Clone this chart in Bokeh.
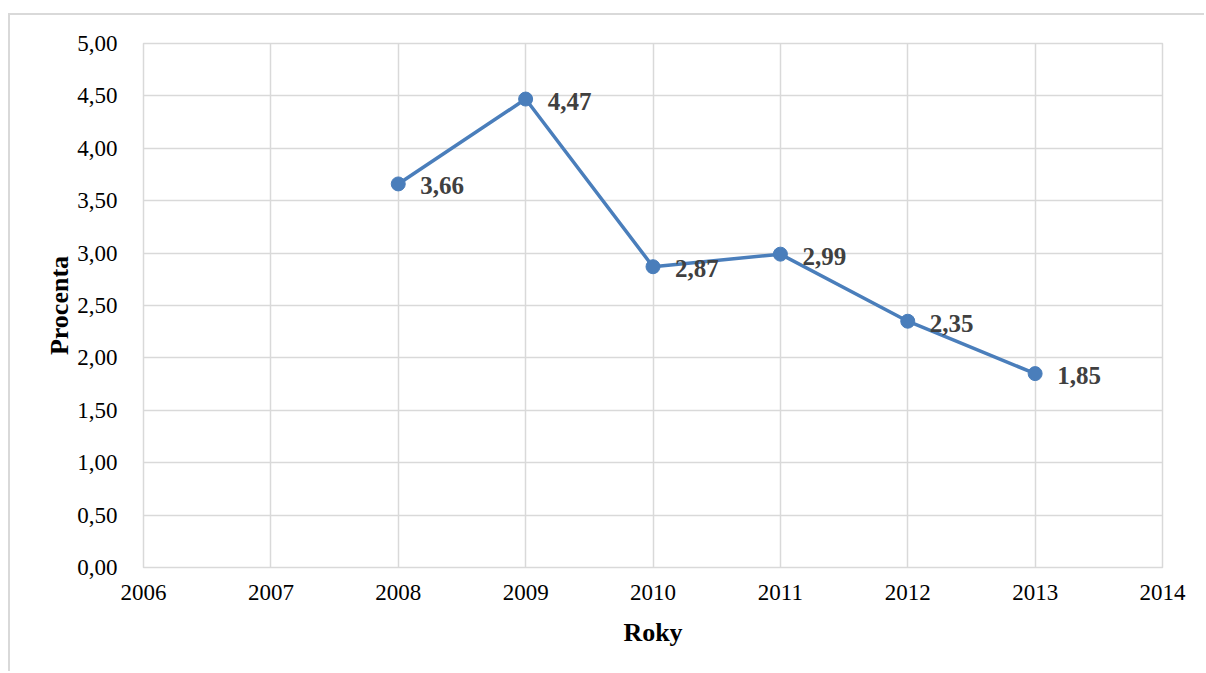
from bokeh.plotting import figure
from bokeh.models import FixedTicker, ColumnDataSource, Range1d
from bokeh.core.properties import value
from bokeh.embed import file_html
from bokeh.resources import INLINE

years = [2008, 2009, 2010, 2011, 2012, 2013]
percents = [3.66, 4.47, 2.87, 2.99, 2.35, 1.85]
labels = ["3,66", "4,47", "2,87", "2,99", "2,35", "1,85"]
x_ticks = [2006, 2007, 2008, 2009, 2010, 2011, 2012, 2013, 2014]
y_ticks = [0.0, 0.5, 1.0, 1.5, 2.0, 2.5, 3.0, 3.5, 4.0, 4.5, 5.0]
y_tick_labels = ["0,00", "0,50", "1,00", "1,50", "2,00", "2,50", "3,00", "3,50", "4,00", "4,50", "5,00"]

FONT = "Liberation Serif"
BLUE = "#4a7ebb"
GRID = "#d9d9d9"

p = figure(width=1196, height=658, output_backend="svg", toolbar_location=None,
           x_range=Range1d(2006, 2014), y_range=Range1d(0, 5),
           min_border_left=133, min_border_right=44, min_border_top=28, min_border_bottom=106)
p.margin = (13, 0, 0, 8)
p.styles = {"border-top": "2px solid #d9d9d9", "border-left": "2px solid #d9d9d9"}
p.outline_line_color = GRID
p.outline_line_width = 1.5

p.xaxis.ticker = FixedTicker(ticks=x_ticks)
p.yaxis.ticker = FixedTicker(ticks=y_ticks)
p.yaxis.major_label_overrides = {t: l for t, l in zip(y_ticks, y_tick_labels)}
p.xaxis.major_label_overrides = {t: str(t) for t in x_ticks}

for ax in (p.xaxis, p.yaxis):
    ax.axis_line_color = None
    ax.major_tick_line_color = None
    ax.minor_tick_line_color = None
    ax.major_label_text_font = FONT
    ax.major_label_text_font_size = "23px"
    ax.major_label_text_color = "#000000"
    ax.axis_label_text_font = FONT
    ax.axis_label_text_font_size = "26px"
    ax.axis_label_text_font_style = "bold"
    ax.axis_label_text_color = "#000000"

p.xaxis.major_label_standoff = 11
p.yaxis.major_label_standoff = 20
p.xaxis.axis_label = "Roky"
p.yaxis.axis_label = "Procenta"
p.xaxis.axis_label_standoff = 15
p.yaxis.axis_label_standoff = 0

p.xgrid.grid_line_color = GRID
p.ygrid.grid_line_color = GRID
p.xgrid.grid_line_width = 1.5
p.ygrid.grid_line_width = 1.5

src = ColumnDataSource(dict(x=years, y=percents, label=labels))
p.line("x", "y", source=src, line_color=BLUE, line_width=3.5)
p.scatter("x", "y", source=src, size=14, fill_color=BLUE, line_color=BLUE)
p.text("x", "y", text="label", source=src, x_offset=22, y_offset=2,
       text_font=value(FONT), text_font_size="25px", text_font_style="bold",
       text_color="#404040", text_align="left", text_baseline="middle")

open("out.html", "w").write(file_html(p, INLINE))
